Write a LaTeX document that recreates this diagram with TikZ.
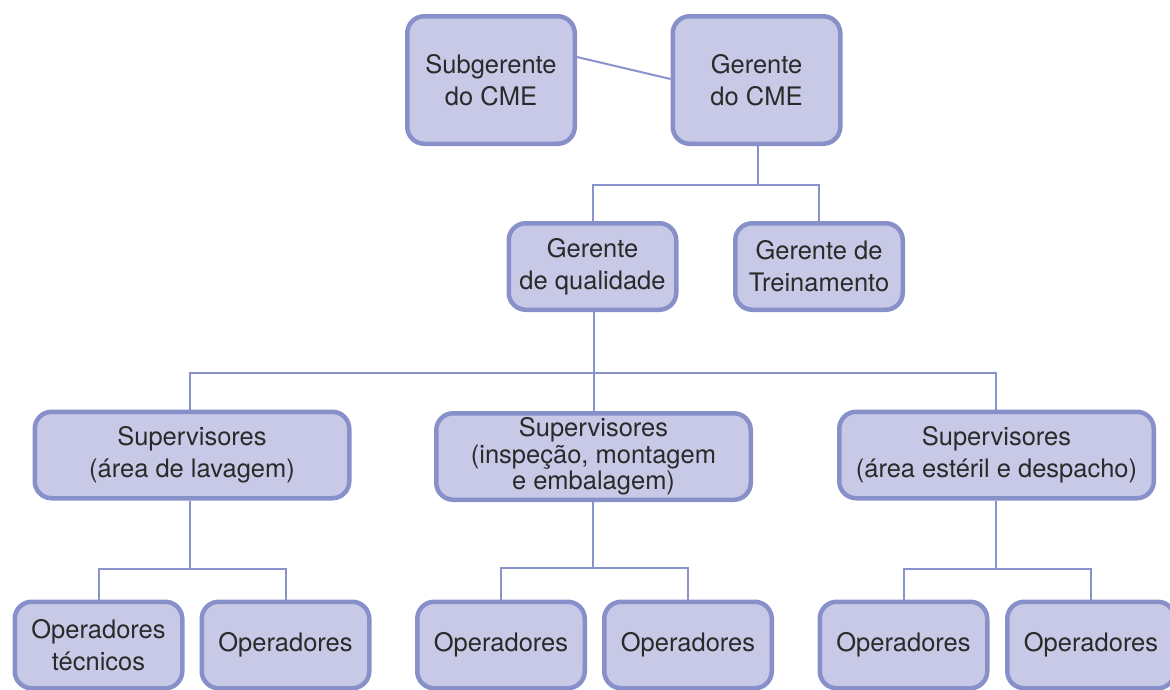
\documentclass[tikz,border=0pt]{standalone}
\usepackage{fontspec}
\setmainfont{TeX Gyre Heros}
\definecolor{boxfill}{HTML}{C7C9E6}
\definecolor{boxline}{HTML}{8890C9}
\definecolor{linkline}{HTML}{8A92CB}
\definecolor{textcol}{HTML}{2A2A2A}
\begin{document}
\begin{tikzpicture}[x=1pt,y=-1pt,
  orgbox/.style={draw=boxline, fill=boxfill, line width=4.5pt, rounded corners=17pt,
    text=textcol, align=center, inner sep=0pt,
    font=\fontsize{25.5}{32}\selectfont},
  small/.style={orgbox, minimum width=167.5pt, minimum height=127.5pt},
  mid/.style={orgbox, minimum width=167.5pt, minimum height=86.5pt},
  wide/.style={orgbox, minimum width=314.5pt, minimum height=86.5pt},
  link/.style={draw=linkline, line width=2pt}]
\useasboundingbox (0,0) rectangle (1170,689);

% top level
\node[small] (sub) at (491,80) {Subgerente\\do CME};
\node[small] (ger) at (756.5,80) {Gerente\\do CME};

% managers
\node[mid] (qual) at (592.5,266.5) {Gerente\\de qualidade};
\node[mid] (trein) at (819,266.5) {Gerente de\\Treinamento};

% supervisors
\node[wide] (supA) at (192,455) {Supervisores\\(área de lavagem)};
\node[wide, font=\fontsize{25.5}{26.5}\selectfont] (supB) at (593.5,456.5) {Supervisores\\(inspeção, montagem\\e embalagem)};
\node[wide] (supC) at (996.5,455) {Supervisores\\(área estéril e despacho)};

% operators
\node[mid] (opA1) at (98.5,645) {Operadores\\técnicos};
\node[mid] (opA2) at (285.5,645) {Operadores};
\node[mid] (opB1) at (501,645) {Operadores};
\node[mid] (opB2) at (688,645) {Operadores};
\node[mid] (opC1) at (903.5,645) {Operadores};
\node[mid] (opC2) at (1091,645) {Operadores};

% connectors
\draw[link] ([yshift=23pt]sub.east) -- ([yshift=1pt]ger.west);

\draw[link] ([xshift=1.5pt]ger.south) -- ++(0,39) coordinate (j1);
\draw[link] (qual.north) |- (j1) -| (trein.north);

\draw[link] (supB.north |- qual.south) -- (supB.north |- 0,373) coordinate (j2);
\draw[link] ([xshift=-2pt]supA.north) |- (j2) -| ([xshift=-0.5pt]supC.north);
\draw[link] (j2) -- (supB.north);

\draw[link] ([xshift=-2pt]supA.south) -- ++(0,68) coordinate (j3);
\draw[link] (opA1.north) |- (j3) -| (opA2.north);

\draw[link] ([xshift=-0.5pt]supB.south) -- ++(0,66) coordinate (j4);
\draw[link] (opB1.north) |- (j4) -| (opB2.north);

\draw[link] ([xshift=-0.5pt]supC.south) -- ++(0,68) coordinate (j5);
\draw[link] (opC1.north) |- (j5) -| (opC2.north);
\end{tikzpicture}
\end{document}
